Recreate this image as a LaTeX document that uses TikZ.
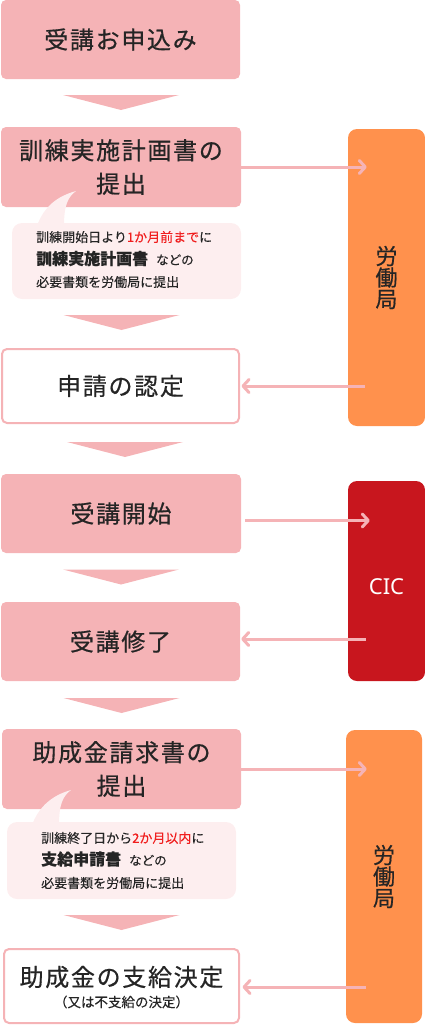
\documentclass[tikz,border=0pt]{standalone}
\usepackage{fontspec}
\setmainfont{Noto Sans CJK JP}
\newfontfamily\boxfont[LetterSpace=7, FakeBold=0.6]{Noto Sans CJK JP}
\newfontfamily\sidefont[FakeBold=0.6]{Noto Sans CJK JP}
\newfontfamily\notefont[FakeBold=0.2]{Noto Sans CJK JP}
\newfontfamily\latinfont{Noto Sans}
\usetikzlibrary{arrows.meta}
\definecolor{boxpink}{HTML}{F5B3B6}
\definecolor{bubblepink}{HTML}{FDEEEF}
\definecolor{sideorange}{HTML}{FF914D}
\definecolor{cicred}{HTML}{C8161E}
\definecolor{textdark}{HTML}{252525}
\definecolor{notered}{HTML}{F01E1E}
\begin{document}
\begin{tikzpicture}[x=1pt,y=-1pt,
  flow/.style={rectangle, rounded corners=5pt, fill=boxpink, text=textdark,
    font=\boxfont\fontsize{24}{33.5}\selectfont, align=center, inner sep=0pt},
  outl/.style={flow, fill=white, draw=boxpink, line width=2pt},
  side/.style={rectangle, rounded corners=9pt, fill=sideorange, inner sep=0pt,
    text=textdark, align=center, font=\sidefont\fontsize{22}{21.5}\selectfont},
  arr/.style={draw=boxpink, line width=3pt, -{Straight Barb[length=6pt,width=13pt,round]}},
  bub/.style={fill=bubblepink},
  note/.style={anchor=west, inner sep=0pt, text=textdark, font=\notefont\fontsize{13}{16}\selectfont},
  chev/.pic={\fill[boxpink] (-58,0) -- (58,0) -- (0,15) -- cycle;}
]
\useasboundingbox (0,0) rectangle (425,1025);

% main flow boxes
\node[flow, minimum width=239pt, minimum height=79pt] (s1) at (120.5,39.5) {受講お申込み};
\node[flow, minimum width=240pt, minimum height=80pt] (s2) at (121,167) {訓練実施計画書の\\提出};
\node[outl, minimum width=237pt, minimum height=74pt] (s3) at (120.5,386) {申請の認定};
\node[flow, minimum width=240pt, minimum height=79pt] (s4) at (121,513.5) {受講開始};
\node[flow, minimum width=239pt, minimum height=79pt] (s5) at (120.5,641.5) {受講修了};
\node[flow, minimum width=239pt, minimum height=80pt] (s6) at (121.5,769) {助成金請求書の\\提出};
\node[outl, minimum width=235pt, minimum height=74pt] (s7) at (121.5,986) {};
\node[inner sep=0pt, text=textdark, font=\boxfont\fontsize{24}{26}\selectfont] (s7a) at (121.5,977) {助成金の支給決定};
\node[inner sep=0pt, text=textdark, font=\notefont\fontsize{13.5}{15}\selectfont] (s7b) at (121.5,1002) {（又は不支給の決定）};

% side boxes
\node[side, minimum width=77pt, minimum height=297pt] (r1) at (386.5,277.5) {労\\働\\局};
\node[side, fill=cicred, minimum width=77pt, minimum height=200pt] (cic) at (386.5,581) {};
\node[inner sep=0pt, text=white, font=\latinfont\fontsize{22}{23}\selectfont] (cict) at (386.5,587) {CIC};
\node[side, minimum width=76pt, minimum height=293pt] (r2) at (384,876.5) {労\\働\\局};

% speech bubbles
\fill[bub, rounded corners=10pt] (12,223) rectangle (241,299);
\fill[bub] (37,226) .. controls (44,206) and (58,196) .. (76,191) .. controls (68,197) and (64,205) .. (64,226) -- cycle;
\node[note] (n1a) at (36,237) {訓練開始日より\textcolor{notered}{1か月前まで}に};
\node[note] (n1b) at (36,258.5) {{\bfseries\fontsize{16}{18}\selectfont 訓練実施計画書}\hspace{8pt}{\fontsize{12.5}{15}\selectfont などの}};
\node[note] (n1c) at (36,282) {必要書類を労働局に提出};

\fill[bub, rounded corners=10pt] (7,822) rectangle (236,899);
\fill[bub] (32,825) .. controls (39,806) and (53,795) .. (71,790) .. controls (63,796) and (59,804) .. (59,825) -- cycle;
\node[note] (n2a) at (41,838) {訓練終了日から\textcolor{notered}{2か月以内}に};
\node[note] (n2b) at (41,859) {{\bfseries\fontsize{16}{18}\selectfont 支給申請書}\hspace{8pt}{\fontsize{12.5}{15}\selectfont などの}};
\node[note] (n2c) at (41,883) {必要書類を労働局に提出};

% chevrons
\pic at (121,95) {chev};
\pic at (121.5,315) {chev};
\pic at (125,442) {chev};
\pic at (121,569.5) {chev};
\pic at (121.5,698) {chev};
\pic at (121.5,915) {chev};

% connectors
\draw[arr] (s2.east) -- ([xshift=19pt]r1.west |- s2.east);
\draw[arr] ([xshift=17pt]r1.west |- s3.east) -- ([xshift=1.5pt]s3.east);
\draw[arr] ([xshift=4pt,yshift=-7pt]s4.east) -- ([xshift=22pt,yshift=-7pt]cic.west |- s4.east);
\draw[arr] ([xshift=18pt,yshift=2.5pt]cic.west |- s5.east) -- ([xshift=1pt,yshift=2.5pt]s5.east);
\draw[arr] (s6.east) -- ([xshift=21pt]r2.west |- s6.east);
\draw[arr] ([xshift=20pt,yshift=-1pt]r2.west |- s7.east) -- ([xshift=2.5pt,yshift=-1pt]s7.east);
\end{tikzpicture}
\end{document}
